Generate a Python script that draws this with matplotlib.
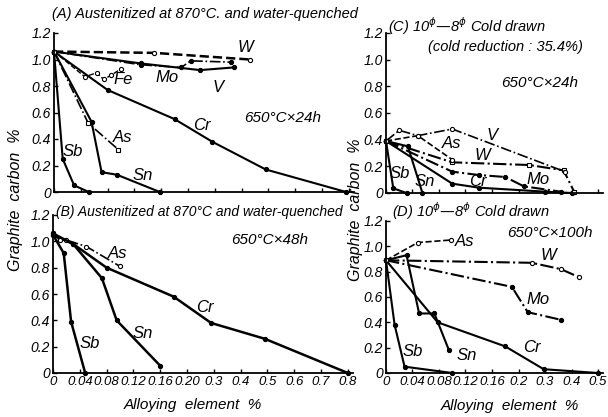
import numpy as np
import matplotlib
matplotlib.use('Agg')
import matplotlib.pyplot as plt

# ---- data (x = alloying element %, y = graphite carbon %) ----
# (A) 870C water-quenched, 650C x 24h
a_sb_x = [0, 0.013, 0.03, 0.052]
a_sb_y = [1.06, 0.25, 0.05, 0.0]
a_sn_x = [0, 0.056, 0.071, 0.094, 0.158]
a_sn_y = [1.06, 0.53, 0.15, 0.13, 0.0]
a_as_x = [0, 0.051, 0.096]
a_as_y = [1.06, 0.52, 0.32]
a_cr_x = [0, 0.08, 0.18, 0.29, 0.49, 0.79]
a_cr_y = [1.06, 0.77, 0.55, 0.38, 0.17, 0.0]
a_fe_x = [0, 0.046, 0.064, 0.074, 0.085, 0.1]
a_fe_y = [1.06, 0.87, 0.90, 0.85, 0.88, 0.93]
a_mo_x = [0, 0.13, 0.19, 0.21, 0.36]
a_mo_y = [1.06, 0.96, 0.94, 0.99, 0.98]
a_v_x = [0, 0.13, 0.245, 0.37]
a_v_y = [1.06, 0.97, 0.92, 0.94]
a_w_x = [0, 0.15, 0.43]
a_w_y = [1.06, 1.05, 1.0]

# (B) 870C water-quenched, 650C x 48h
b_sb_x = [0, 0.016, 0.027, 0.048]
b_sb_y = [1.05, 0.91, 0.39, 0.0]
b_sn_x = [0, 0.03, 0.073, 0.095, 0.16]
b_sn_y = [1.05, 0.98, 0.72, 0.40, 0.055]
b_as_x = [0, 0.01, 0.02, 0.05, 0.1]
b_as_y = [1.06, 1.01, 1.01, 0.96, 0.81]
b_cr_x = [0, 0.03, 0.08, 0.18, 0.29, 0.49, 0.8]
b_cr_y = [1.06, 0.98, 0.80, 0.58, 0.38, 0.26, 0.0]

# (C) cold drawn, 650C x 24h
c_sb_x = [0, 0.011, 0.031]
c_sb_y = [0.39, 0.035, 0.0]
c_sn_x = [0, 0.033, 0.055]
c_sn_y = [0.39, 0.35, 0.0]
c_cr_x = [0, 0.1, 0.14, 0.3, 0.4]
c_cr_y = [0.39, 0.07, 0.04, 0.01, 0.0]
c_mo_x = [0, 0.1, 0.14, 0.18, 0.22, 0.36]
c_mo_y = [0.39, 0.16, 0.135, 0.12, 0.05, 0.01]
c_w_x = [0, 0.1, 0.24, 0.37, 0.41]
c_w_y = [0.39, 0.23, 0.21, 0.17, 0.01]
c_as_x = [0, 0.048, 0.1]
c_as_y = [0.39, 0.43, 0.25]
c_v_x = [0, 0.02, 0.048, 0.1, 0.375]
c_v_y = [0.39, 0.47, 0.43, 0.48, 0.16]

# (D) cold drawn, 650C x 100h
d_sb_x = [0, 0.013, 0.028, 0.1]
d_sb_y = [0.89, 0.38, 0.05, 0.0]
d_sn_x = [0, 0.031, 0.05, 0.073, 0.095]
d_sn_y = [0.89, 0.93, 0.47, 0.47, 0.18]
d_cr_x = [0, 0.078, 0.18, 0.295, 0.5]
d_cr_y = [0.89, 0.40, 0.21, 0.03, 0.0]
d_mo_x = [0, 0.19, 0.235, 0.36]
d_mo_y = [0.89, 0.68, 0.48, 0.42]
d_w_x = [0, 0.25, 0.36, 0.43]
d_w_y = [0.89, 0.87, 0.82, 0.755]
d_as_x = [0, 0.048, 0.098]
d_as_y = [0.89, 1.03, 1.05]

left_ticks = [0, 0.04, 0.08, 0.12, 0.16, 0.2, 0.3, 0.4, 0.5, 0.6, 0.7, 0.8]
left_labels = ['0', '0.04', '0.08', '0.12', '0.16', '0.20', '0.3', '0.4', '0.5', '0.6', '0.7', '0.8']
right_ticks = [0, 0.04, 0.08, 0.12, 0.16, 0.2, 0.3, 0.4, 0.5]
right_labels = ['0', '0.04', '0.08', '0.12', '0.16', '0.2', '0.3', '0.4', '0.5']
y_ticks = [0, 0.2, 0.4, 0.6, 0.8, 1.0, 1.2]
y_labels = ['0', '0.2', '0.4', '0.6', '0.8', '1.0', '1.2']

plt.rcParams['font.family'] = ['Liberation Sans', 'DejaVu Sans']
plt.rcParams['font.style'] = 'italic'
plt.rcParams['mathtext.default'] = 'it'


# x axis: 0-0.2 in steps of 0.04, then 0.3, 0.4 ... at the same spacing
def fwd(x):
    x = np.asarray(x, dtype=float)
    return np.where(x <= 0.2, x / 0.04, 5 + (x - 0.2) / 0.1)


def inv(u):
    u = np.asarray(u, dtype=float)
    return np.where(u <= 5, u * 0.04, 0.2 + (u - 5) * 0.1)


W, H = 608, 417
fig = plt.figure(figsize=(W / 100, H / 100), dpi=100)


def px_axes(x0, y0, x1, y1):
    # x0,y0 = origin pixel (left, bottom), x1,y1 = right end / top pixel
    return fig.add_axes([x0 / W, 1 - y0 / H, (x1 - x0) / W, (y0 - y1) / H])


def setup(ax, umax, ticks, labels, show):
    ax.set_xscale('function', functions=(fwd, inv))
    ax.set_xlim(0, float(inv(umax)))
    ax.set_ylim(0, 1.2)
    for s in ['top', 'right']:
        ax.spines[s].set_visible(False)
    for s in ['left', 'bottom']:
        ax.spines[s].set_linewidth(1.3)
    ax.set_xticks(ticks)
    ax.set_xticklabels(labels if show else [])
    ax.minorticks_off()
    ax.set_yticks(y_ticks)
    ax.set_yticklabels(y_labels)
    ax.tick_params(direction='in', length=3, width=1, labelsize=10, pad=2)
    ax.tick_params(axis='x', labelsize=9.5)
    ax.patch.set_alpha(0)


def line(ax, x, y, ls='-', mk='o', mfc='k', lw=1.5):
    ax.plot(x, y, color='k', ls=ls, lw=lw, marker=mk, ms=3, mfc=mfc,
            mec='k', mew=0.8, clip_on=False)


axA = px_axes(54, 192, 54 + 11.2 * 26.8, 33)
axB = px_axes(53, 373, 53 + 11.2 * 26.8, 215)
axC = px_axes(386, 193, 386 + 8.2 * 26.5, 33)
axD = px_axes(386, 373, 386 + 8.2 * 26.5, 221)

setup(axA, 11.2, left_ticks, left_labels, False)
setup(axB, 11.2, left_ticks, left_labels, True)
setup(axC, 8.2, right_ticks, right_labels, False)
setup(axD, 8.2, right_ticks, right_labels, True)

line(axA, a_sb_x, a_sb_y)
line(axA, a_sn_x, a_sn_y)
line(axA, a_as_x, a_as_y, ls='-.', mk='s', mfc='w', lw=1.2)
line(axA, a_cr_x, a_cr_y)
line(axA, a_fe_x, a_fe_y, ls='--', mk='o', mfc='w', lw=1.0)
line(axA, a_mo_x, a_mo_y, ls='-.', lw=1.2)
line(axA, a_v_x, a_v_y)
line(axA, a_w_x, a_w_y, ls='--', mfc='w', lw=1.8)

line(axB, b_sb_x, b_sb_y, lw=1.8)
line(axB, b_sn_x, b_sn_y, lw=1.8)
line(axB, b_as_x, b_as_y, ls='-.', mk='o', mfc='w', lw=1.2)
line(axB, b_cr_x, b_cr_y, lw=1.8)

line(axC, c_sb_x, c_sb_y)
line(axC, c_sn_x, c_sn_y)
line(axC, c_cr_x, c_cr_y)
line(axC, c_mo_x, c_mo_y, ls='-.')
line(axC, c_w_x, c_w_y, ls='-.', mk='s', mfc='w')
line(axC, c_as_x, c_as_y, ls='--', mfc='w', lw=1.2)
line(axC, c_v_x, c_v_y, ls='-.', mfc='w', lw=1.2)

line(axD, d_sb_x, d_sb_y)
line(axD, d_sn_x, d_sn_y)
line(axD, d_cr_x, d_cr_y)
line(axD, d_mo_x, d_mo_y, ls='-.')
line(axD, d_w_x, d_w_y, ls='-.', mfc='w')
line(axD, d_as_x, d_as_y, ls='--', mfc='w', lw=1.2)


def t(x, y, s, size=12, ha='center', rot=0):
    fig.text(x / W, 1 - y / H, s, fontsize=size, ha=ha, va='center',
             rotation=rot, style='italic')


# panel titles and conditions
t(52, 14, '(A) Austenitized at 870°C. and water-quenched', 10.5, 'left')
t(56, 212, '(B) Austenitized at 870°C and water-quenched', 10, 'left')
t(388, 26, r'(C) 10$^{\phi}$—8$^{\phi}$ Cold drawn', 10.5, 'left')
t(428, 47, '(cold reduction : 35.4%)', 10.5, 'left')
t(392, 211, r'(D) 10$^{\phi}$—8$^{\phi}$ Cold drawn', 10.5, 'left')
t(283, 118, '650°C×24h', 11)
t(270, 240, '650°C×48h', 11)
t(540, 83, '650°C×24h', 11)
t(550, 233, '650°C×100h', 11)

# curve labels
for x, y, s in [(245, 48, 'W'), (123, 80, 'Fe'), (167, 78, 'Mo'), (218, 87, 'V'),
                (202, 125, 'Cr'), (123, 138, 'As'), (73, 152, 'Sb'), (143, 175, 'Sn'),
                (118, 253, 'As'), (205, 307, 'Cr'), (143, 333, 'Sn'), (90, 343, 'Sb'),
                (492, 135, 'V'), (452, 143, 'As'), (482, 155, 'W'), (400, 173, 'Sb'),
                (425, 182, 'Sn'), (478, 182, 'Cr'), (538, 180, 'Mo'),
                (465, 242, 'As'), (548, 255, 'W'), (538, 300, 'Mo'), (532, 347, 'Cr'),
                (467, 355, 'Sn'), (413, 352, 'Sb')]:
    t(x, y, s, 12)

# axis titles
t(16, 200, 'Graphite  carbon  %', 11.5, rot=90)
t(355, 210, 'Graphite  carbon  %', 11.5, rot=90)
t(193, 405, 'Alloying  element  %', 11)
t(510, 406, 'Alloying  element  %', 11)

fig.savefig('out.png', dpi=100)
